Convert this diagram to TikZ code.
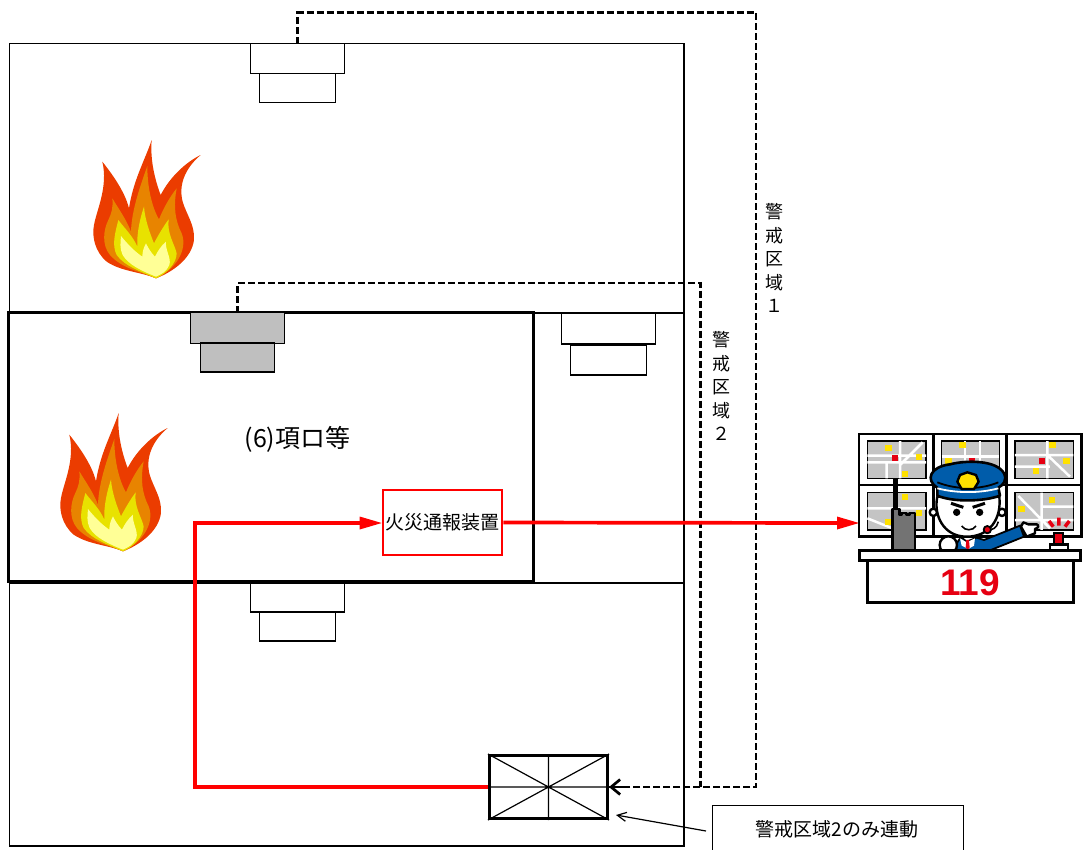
\documentclass[tikz,border=0pt]{standalone}
\usepackage{fontspec}
\setmainfont{Noto Sans CJK JP}
\newfontfamily\numfont{Liberation Sans}
\usetikzlibrary{arrows.meta,calc}
\definecolor{fireA}{RGB}{235,60,0}
\definecolor{fireB}{RGB}{232,132,0}
\definecolor{fireC}{RGB}{232,226,0}
\definecolor{fireD}{RGB}{255,255,150}
\definecolor{alarm}{RGB}{255,0,0}
\definecolor{capblue}{RGB}{0,92,170}
\definecolor{mapgray}{RGB}{196,196,196}
\definecolor{mapyel}{RGB}{255,225,0}
\definecolor{mapred}{RGB}{230,0,18}
\tikzset{
 room/.style={draw=black,line width=1.5pt},
 detector/.style={draw=black,fill=white,line width=1.2pt,minimum height=0pt,minimum width=0pt,inner sep=0pt,outer sep=0pt},
 lbl/.style={inner sep=0pt,font=\fontsize{19}{21}\selectfont,align=center},
 vlbl/.style={inner sep=0pt,font=\fontsize{18}{23.5}\selectfont,align=center},
 wire/.style={draw=black,line width=2.7pt,dash pattern=on 7pt off 3pt},
 redline/.style={draw=alarm,line width=3.7pt},
 screen/.style={draw=black,line width=1.6pt,fill=mapgray},
 road/.style={draw=white,line width=2.5pt},
 ol/.style={draw=black,line width=1.5pt,line join=round},
 pics/flame/.style={code={
  \begin{scope}[x=.3333pt,y=-.3333pt]
  \fill[fireA] (318,445) .. controls (270,425) and (215,425) .. (170,395) .. controls (135,365) and (125,320) .. (132,285) .. controls (140,240) and (175,170) .. (157,95) .. controls (185,130) and (225,185) .. (237,235) .. controls (250,150) and (285,90) .. (305,30) .. controls (300,90) and (315,150) .. (332,195) .. controls (360,140) and (410,95) .. (452,75) .. controls (405,115) and (385,165) .. (398,215) .. controls (410,255) and (435,285) .. (432,330) .. controls (425,385) and (370,425) .. (318,445) -- cycle;
  \fill[fireB] (318,445) .. controls (270,425) and (215,415) .. (180,375) .. controls (155,345) and (160,300) .. (175,270) .. controls (185,250) and (190,230) .. (187,205) .. controls (205,235) and (230,270) .. (243,305) .. controls (245,240) and (270,170) .. (292,108) .. controls (292,170) and (305,230) .. (327,268) .. controls (340,235) and (360,200) .. (380,175) .. controls (370,230) and (375,270) .. (395,310) .. controls (415,360) and (375,420) .. (318,445) -- cycle;
  \fill[fireC] (318,445) .. controls (275,425) and (225,410) .. (200,375) .. controls (185,345) and (195,310) .. (205,270) .. controls (220,290) and (250,320) .. (262,350) .. controls (260,310) and (270,265) .. (282,230) .. controls (285,270) and (300,310) .. (312,340) .. controls (325,315) and (340,290) .. (356,268) .. controls (350,310) and (375,345) .. (380,370) .. controls (380,400) and (350,430) .. (318,445) -- cycle;
  \fill[fireD] (318,440) .. controls (280,425) and (235,405) .. (218,375) .. controls (208,355) and (212,335) .. (213,318) .. controls (235,345) and (255,365) .. (277,380) .. controls (277,365) and (282,350) .. (288,340) .. controls (295,355) and (305,370) .. (315,380) .. controls (322,365) and (335,345) .. (348,335) .. controls (345,360) and (365,385) .. (358,405) .. controls (350,425) and (335,432) .. (318,440) -- cycle;
  \end{scope}}},
}
\begin{document}
\begin{tikzpicture}[x=1pt,y=-1pt]
\useasboundingbox (0,0) rectangle (1083,849);
% building
\draw[room] (9.5,43.5) rectangle (684,846);
\draw[room] (9.5,313) -- (684,313);
\draw[room] (9.5,583) -- (684,583);
% detectors
\node[detector,minimum width=94pt,minimum height=30pt] (d1a) at (297.5,58.5) {};
\node[detector,minimum width=76pt,minimum height=29pt] (d1b) at (297.5,88) {};
\node[detector,minimum width=94pt,minimum height=31pt] (d3a) at (608.5,328.5) {};
\node[detector,minimum width=76pt,minimum height=30pt] (d3b) at (608.5,360) {};
\node[detector,minimum width=94pt,minimum height=29pt] (d4a) at (297.5,597.5) {};
\node[detector,minimum width=76pt,minimum height=29pt] (d4b) at (297.5,626.5) {};
\draw[black,line width=3pt] (8.5,312.5) rectangle (533,581.5);
\node[detector,fill=black!25,minimum width=94pt,minimum height=31pt] (d2a) at (237.5,328) {};
\node[detector,fill=black!25,minimum width=74pt,minimum height=29pt] (d2b) at (237.5,357.5) {};
% flames
\pic at (50,130) {flame};
\pic at (17,403) {flame};
% labels
\node[lbl,font=\fontsize{25}{27}\selectfont] (t6) at (297.5,439) {(6)項ロ等};
\node[vlbl] (z1) at (774,258) {警\\戒\\区\\域\\１};
\node[vlbl] (z2) at (721,386) {警\\戒\\区\\域\\２};
% alarm panel
\node[draw=alarm,line width=2.7pt,fill=white,minimum width=119pt,minimum height=65pt,inner sep=0pt,font=\fontsize{19}{21}\selectfont] (panel) at (442.5,522.5) {火災通報装置};
% receiver
\node[draw=black,line width=3pt,minimum width=118pt,minimum height=63pt,inner sep=0pt] (recv) at (548.5,787) {};
\draw[line width=1.2pt] (recv.north west) -- (recv.south east) (recv.south west) -- (recv.north east) (recv.north) -- (recv.south) (recv.west) -- (recv.east);
% note box
\node[draw=black,line width=1.3pt,minimum width=251pt,minimum height=60pt,inner sep=0pt,anchor=north west] (note) at (712,805) {};
\node[lbl] (notet) at (837,829) {警戒区域2のみ連動};
\coordinate (noteout) at (706,831);
\coordinate (recvnote) at (616,815);
\draw[line width=1.2pt,-{Straight Barb[length=9pt,width=9pt]}] (noteout) -- (recvnote);
% dashed wires
\coordinate (w1a) at (297.5,12.5);
\coordinate (w1b) at (756,12.5);
\coordinate (w1c) at (756,787);
\coordinate (w2a) at (237.5,283);
\coordinate (w2b) at (700.5,283);
\coordinate (w2c) at (700.5,787);
\draw[wire] (d1a.north) -- (w1a) -- (w1b) -- (w1c) -- (recv.east);
\draw[wire] (d2a.north) -- (w2a) -- (w2b) -- (w2c);
\draw[black,line width=2.7pt,-{Straight Barb[length=9pt,width=15pt,line width=2.7pt]}] ($(recv.east)+(14,0)$) -- (recv.east);
% red lines
\coordinate (r1) at (195,787);
\coordinate (r2) at (195,523);
\draw[redline] (recv.west) -- (r1) -- (r2) -- (365,523);
\fill[alarm] (r2-|panel.west) -- ++(-22,-6.5) -- ++(0,13) -- cycle;
\coordinate (cc) at (859,523);
\draw[redline] (panel.east) -- (840,523);
\fill[alarm] (cc) -- ++(-22,-6.5) -- ++(0,13) -- cycle;
% control room
\begin{scope}[shift={(850,425)},x=.3333pt,y=-.3333pt]
 \draw[line width=2.8pt,fill=white] (27,27) rectangle (695,335);
 \draw[line width=2.8pt] (250,27) -- (250,335) (470,27) -- (470,335) (27,180) -- (695,180);
 % screens
 \draw[screen] (52,48) rectangle (228,160);
 \draw[road] (52,92) -- (228,92) (150,48) -- (150,160) (110,108) -- (110,160) (150,120) -- (218,52) (52,112) -- (228,112);
 \fill[mapyel] (106,60) rectangle +(20,18); \fill[mapyel] (198,88) rectangle +(19,18); \fill[mapyel] (155,138) rectangle +(19,18); \fill[mapred] (125,89) rectangle +(18,18);
 \draw[screen] (275,48) rectangle (448,160);
 \draw[road] (275,95) -- (448,95) (345,48) -- (345,160) (390,48) -- (390,160);
 \fill[mapyel] (327,52) rectangle +(20,18); \fill[mapyel] (285,100) rectangle +(20,18); \fill[mapred] (358,100) rectangle +(18,18);
 \draw[screen] (495,48) rectangle (670,160);
 \draw[road] (495,90) -- (670,90) (495,125) -- (600,125) (592,48) -- (592,160) (592,90) -- (660,155);
 \fill[mapyel] (597,52) rectangle +(20,18); \fill[mapyel] (640,100) rectangle +(19,18); \fill[mapyel] (548,129) rectangle +(19,18); \fill[mapred] (567,100) rectangle +(18,18);
 \draw[screen] (52,203) rectangle (228,315);
 \draw[road] (52,250) -- (228,250) (140,203) -- (140,315) (52,280) -- (140,315);
 \fill[mapyel] (155,207) rectangle +(19,18); \fill[mapyel] (198,255) rectangle +(19,18); \fill[mapyel] (105,283) rectangle +(19,18);
 \draw[screen] (495,203) rectangle (670,315);
 \draw[road] (505,213) -- (600,310) (495,285) -- (670,285) (575,203) -- (575,315) (575,245) -- (670,245);
 \fill[mapyel] (597,216) rectangle +(19,18); \fill[mapyel] (505,243) rectangle +(19,18);
 % radio
 \draw[line width=5pt] (136,160) -- (136,255);
 \draw[ol,fill=black!55,line width=2.4pt] (127,285) -- (127,252) -- (148,252) -- (148,270) -- (155,270) -- (155,264) -- (170,264) -- (170,270) -- (178,270) -- (178,264) -- (195,264) -- (195,376) -- (127,376) -- cycle;
 % face
 \draw[ol,fill=white,line width=2.4pt] (250,262) circle (11);
 \draw[ol,fill=white,line width=2.4pt] (456,262) circle (11);
 \draw[ol,fill=white,line width=2.4pt] (262,215) .. controls (250,270) and (280,335) .. (350,335) .. controls (420,335) and (455,280) .. (448,215) -- cycle;
 \draw[line width=1.6pt] (445,290) .. controls (440,310) and (428,315) .. (412,315);
 % body
 \fill[capblue,draw=black,line width=1.8pt] (315,376) .. controls (320,355) and (325,342) .. (335,338) -- (350,350) -- (380,338) -- (402,345) -- (510,302) -- (522,335) -- (420,376) -- cycle;
 \fill[white] (330,340) -- (350,352) -- (375,340) -- (372,362) -- (355,372) -- (335,362) -- cycle;
 \fill[mapred] (349,345) -- (357,345) -- (359,368) -- (353,374) -- (347,368) -- cycle;
 \draw[ol,fill=white,line width=2.4pt] (295,360) circle (26);
 % hand
 \draw[ol,fill=white,line width=2.4pt] (513,305) -- (520,292) -- (535,298) -- (560,298) .. controls (568,300) and (565,310) .. (555,312) -- (555,325) -- (530,335) -- cycle;
 % eyes, brows, mouth
 \fill (320,262) circle (11); \fill (389,262) circle (11);
 \draw[line width=3pt] (303,235) -- (340,247) (405,235) -- (368,247);
 \draw[line width=1.6pt] (335,303) .. controls (345,318) and (368,318) .. (378,303);
 \draw[ol,fill=mapred,line width=1.8pt] (412,314) circle (11);
 % cap
 \draw[ol,fill=capblue,line width=2.6pt] (262,188) .. controls (225,165) and (240,125) .. (300,118) .. controls (350,105) and (440,105) .. (462,145) .. controls (472,165) and (460,180) .. (445,188) -- (450,212) .. controls (400,230) and (310,232) .. (262,212) -- cycle;
 \draw[white,line width=1.8pt] (262,190) .. controls (320,205) and (390,205) .. (445,190);
 \draw[black,line width=1.8pt] (262,172) .. controls (320,195) and (390,195) .. (445,172);
 \draw[ol,fill=mapyel,line width=2.4pt] (352,142) -- (378,150) -- (386,170) -- (372,192) -- (335,192) -- (322,170) -- (330,150) -- cycle;
 % beacon
 \draw[mapred,line width=3.5pt] (627,278) -- (627,302) (597,288) -- (610,305) (658,288) -- (645,305);
 \draw[line width=2pt,fill=mapred] (612,325) rectangle (640,358);
 \draw[line width=2.4pt,fill=white] (600,358) rectangle (654,376);
 % desk
 \draw[line width=3pt,fill=white] (52,408) rectangle (670,533);
 \draw[line width=3pt,fill=white] (28,378) rectangle (693,408);
 \node[inner sep=0pt,text=mapred,font=\numfont\bfseries\fontsize{37}{37}\selectfont] (n119) at (360,474) {119};
\end{scope}
\end{tikzpicture}
\end{document}
